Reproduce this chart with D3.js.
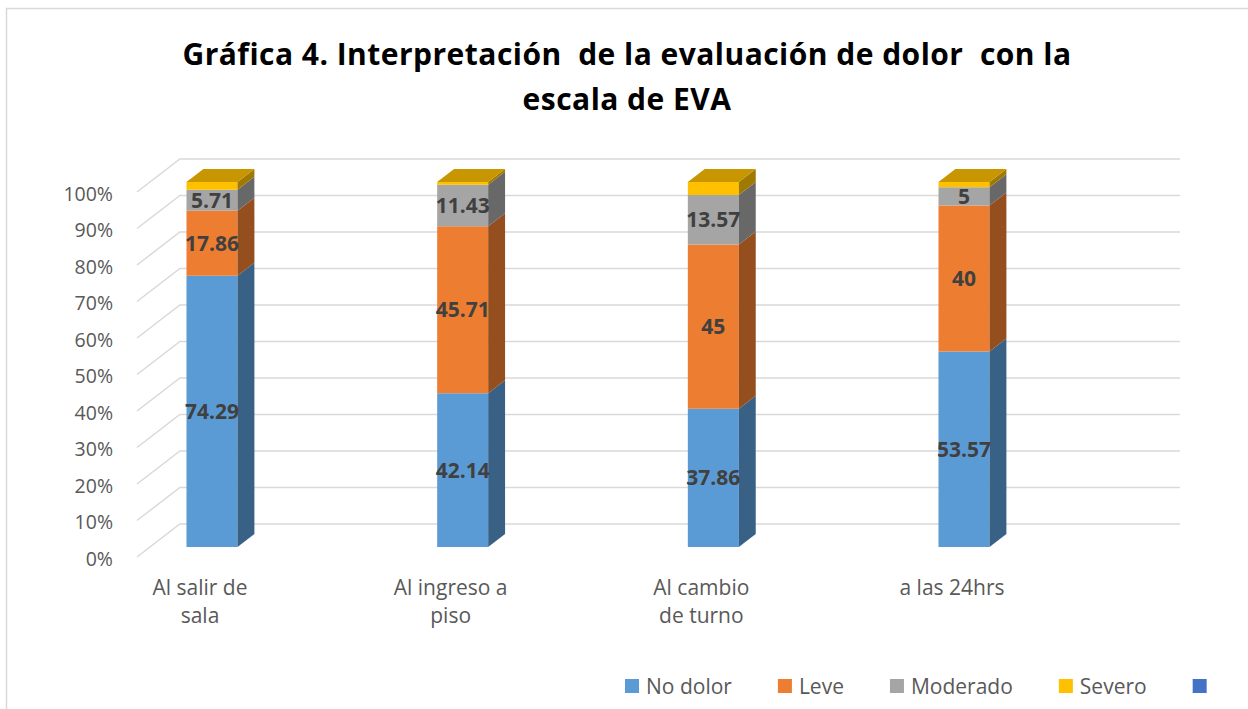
<!DOCTYPE html>
<html>
<head>
<meta charset="utf-8">
<script src="https://cdn.jsdelivr.net/npm/d3@7"></script>
<style>
  body { margin: 0; background: #fff; }
  svg { display: block; font-family: "Open Sans", sans-serif; }
</style>
</head>
<body>
<svg id="chart" width="1248" height="709"></svg>
<script>
// datos de la grafica
var categories = ["Al salir de sala", "Al ingreso a piso", "Al cambio de turno", "a las 24hrs"];
var catLines = [["Al salir de", "sala"], ["Al ingreso a", "piso"], ["Al cambio", "de turno"], ["a las 24hrs"]];
var seriesNames = ["No dolor", "Leve", "Moderado", "Severo"];
var noDolor = [74.29, 42.14, 37.86, 53.57];
var leve = [17.86, 45.71, 45, 40];
var moderado = [5.71, 11.43, 13.57, 5];
var severo = [2.14, 0.72, 3.57, 1.43];
var tickValues = [0, 10, 20, 30, 40, 50, 60, 70, 80, 90, 100];
var colors = ["#5B9BD5", "#ED7D31", "#A5A5A5", "#FFC000"];
var extraLegendColor = "#4472C4";

var svg = d3.select("#chart");

// borde
svg.append("rect")
    .attr("x", 6.5).attr("y", 8.5)
    .attr("width", 1300).attr("height", 760)
    .attr("fill", "none")
    .attr("stroke", "#d9d9d9")
    .attr("stroke-width", 1.5);

// titulo
var title = svg.append("text")
    .attr("text-anchor", "middle")
    .attr("font-weight", "bold")
    .attr("font-size", 30)
    .attr("fill", "#000")
    .style("white-space", "pre");
var t1 = title.append("tspan").attr("x", 627).attr("y", 65)
    .text("Gráfica 4. Interpretación  de la evaluación de dolor  con la");
var t2 = title.append("tspan").attr("x", 627).attr("y", 110)
    .text("escala de EVA");
// ajustar el espaciado para que la primera linea ocupe el mismo ancho
var w1 = t1.node().getComputedTextLength();
var ls = (889 - w1) / t1.text().length;
title.attr("letter-spacing", ls);

// escalas (plano frontal)
var y = d3.scaleLinear().domain([0, 100]).range([557, 192]);
var x = d3.scalePoint().domain(categories).range([199, 951]);
var kx = 1.3;          // desplazamiento en x por unidad de profundidad
var floorDepth = 33;
var wallLeft = 137, wallRight = 1180 - floorDepth * kx;
var barZ0 = 10, barZ1 = 23, halfW = 25.5;

function px(xf, z) { return xf + z * kx; }
function py(v, z) { return y(v) - z; }

// rejilla: pared izquierda + pared trasera
var grid = svg.append("g").attr("stroke", "#d9d9d9").attr("stroke-width", 1.5).attr("fill", "none");
grid.selectAll("path.g")
    .data(tickValues)
    .enter()
    .append("path")
    .attr("d", function (v) {
        return "M" + wallLeft + "," + py(v, 0) +
            "L" + px(wallLeft, floorDepth) + "," + py(v, floorDepth) +
            "L" + px(wallRight, floorDepth) + "," + py(v, floorDepth);
    });

// etiquetas del eje y
svg.append("g")
    .selectAll("text")
    .data(tickValues)
    .enter()
    .append("text")
    .attr("x", 113)
    .attr("y", function (v) { return y(v) + 2; })
    .attr("dy", "0.35em")
    .attr("text-anchor", "end")
    .attr("font-size", 19.5)
    .attr("fill", "#595959")
    .text(function (v) { return v + "%"; });

// etiquetas del eje x
svg.append("g")
    .selectAll("text")
    .data(categories)
    .enter()
    .append("text")
    .attr("text-anchor", "middle")
    .attr("font-size", 21)
    .attr("fill", "#595959")
    .each(function (d, i) {
        var t = d3.select(this);
        catLines[i].forEach(function (line, j) {
            t.append("tspan").attr("x", x(d) + 1).attr("y", 595 + j * 28).text(line);
        });
    });

// apilado
var rows = categories.map(function (c, i) {
    return { cat: c, "No dolor": noDolor[i], "Leve": leve[i], "Moderado": moderado[i], "Severo": severo[i] };
});
var stacked = d3.stack().keys(seriesNames)(rows);

function poly(pts) {
    return "M" + pts.map(function (p) { return p[0] + "," + p[1]; }).join("L") + "Z";
}

var bars = svg.append("g");
stacked.forEach(function (layer, si) {
    var base = d3.color(colors[si]);
    var side = base.darker(1.3).formatHex();
    var top = base.darker(0.7).formatHex();
    layer.forEach(function (seg, ci) {
        var xc = x(categories[ci]);
        var xl = xc - halfW, xr = xc + halfW;
        var v0 = seg[0], v1 = seg[1];
        var g = bars.append("g");
        // cara frontal
        g.append("path")
            .attr("d", poly([[px(xl, barZ0), py(v0, barZ0)], [px(xr, barZ0), py(v0, barZ0)],
                [px(xr, barZ0), py(v1, barZ0)], [px(xl, barZ0), py(v1, barZ0)]]))
            .attr("fill", colors[si]);
        // cara lateral
        g.append("path")
            .attr("d", poly([[px(xr, barZ0), py(v0, barZ0)], [px(xr, barZ1), py(v0, barZ1)],
                [px(xr, barZ1), py(v1, barZ1)], [px(xr, barZ0), py(v1, barZ0)]]))
            .attr("fill", side);
        // tapa superior
        if (si === stacked.length - 1) {
            g.append("path")
                .attr("d", poly([[px(xl, barZ0), py(v1, barZ0)], [px(xr, barZ0), py(v1, barZ0)],
                    [px(xr, barZ1), py(v1, barZ1)], [px(xl, barZ1), py(v1, barZ1)]]))
                .attr("fill", top);
        }
    });
});

// etiquetas de datos (sin Severo)
var labels = svg.append("g")
    .attr("font-weight", "bold")
    .attr("font-size", 21)
    .attr("fill", "#404040")
    .attr("text-anchor", "middle");
stacked.slice(0, 3).forEach(function (layer) {
    layer.forEach(function (seg, ci) {
        var val = seg[1] - seg[0];
        labels.append("text")
            .attr("x", px(x(categories[ci]), barZ0))
            .attr("y", py((seg[0] + seg[1]) / 2, barZ0))
            .attr("dy", "0.36em")
            .text(+val.toFixed(2));
    });
});

// leyenda
var legendItems = seriesNames.map(function (n, i) { return { name: n, color: colors[i] }; });
legendItems.push({ name: "", color: extraLegendColor });
var legend = svg.append("g");
var lx = 625;
legendItems.forEach(function (d) {
    legend.append("rect")
        .attr("x", lx).attr("y", 679)
        .attr("width", 14).attr("height", 14)
        .attr("fill", d.color);
    var t = legend.append("text")
        .attr("x", lx + 21).attr("y", 686)
        .attr("dy", "0.36em")
        .attr("font-size", 21)
        .attr("fill", "#595959")
        .text(d.name);
    lx += 21 + t.node().getComputedTextLength() + 46;
});
</script>
</body>
</html>
